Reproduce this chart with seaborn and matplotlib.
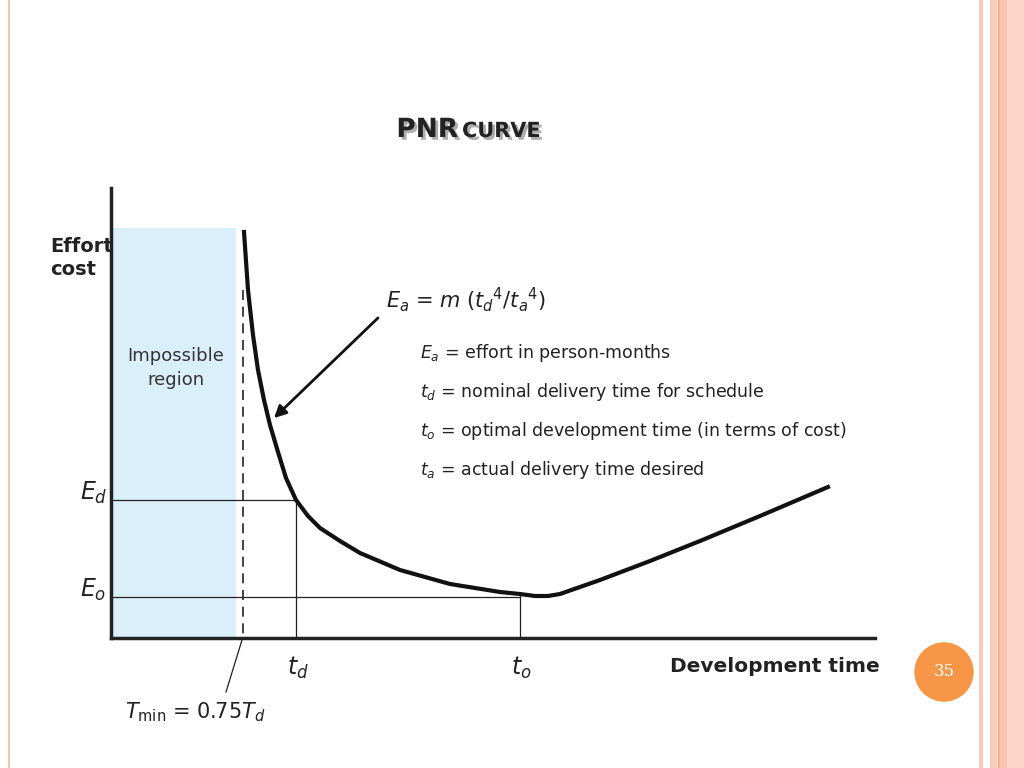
import matplotlib
matplotlib.use("Agg")
import matplotlib.pyplot as plt
import matplotlib.patheffects as pe
import seaborn as sns
import pandas as pd

# Chart data (slide pixel units; y grows downward)
curve_x = [244, 248, 253, 258, 264, 270, 278, 286, 296, 308, 320, 340, 360, 400, 450, 500, 520, 535, 548, 560, 600, 650, 700, 760, 828]
curve_y = [232, 290, 335, 370, 400, 425, 452, 478, 500, 516, 528, 541, 553, 570, 584, 592, 594, 596, 596, 594, 580, 561, 541, 516, 487]
legend_lines = [r"$E_a$ = effort in person-months",
                r"$t_d$ = nominal delivery time for schedule",
                r"$t_o$ = optimal development time (in terms of cost)",
                r"$t_a$ = actual delivery time desired"]

fig = plt.figure(figsize=(10.24, 7.68), dpi=100)
ax = fig.add_axes([0, 0, 1, 1])
ax.set_xlim(0, 1024); ax.set_ylim(768, 0); ax.axis("off")

# slide border
ax.axvline(9, color="#f5b8a0", lw=1.2)
for x0, x1, c in [(979, 983, "#f9cbb8"), (990, 997, "#f9cbb8"), (998, 1007, "#f9c4ae"), (1007, 1024, "#fcd6c6")]:
    ax.axvspan(x0, x1, color=c, lw=0)
ax.axvline(997.5, color="#f0a07a", lw=1)

shadow = [pe.withSimplePatchShadow(offset=(2, -2), shadow_rgbFace="#999999", alpha=0.8)]
ax.text(458, 130, "PNR", ha="right", va="center", fontsize=19, fontweight="bold",
        color="#222222", path_effects=shadow)
ax.text(462, 131, "CURVE", ha="left", va="center", fontsize=15, fontweight="bold",
        color="#222222", path_effects=shadow)

# impossible region
ax.fill_between([111, 236], 228, 638, color="#dbeffb", lw=0)
ax.plot([111, 111], [188, 638], color="#222", lw=2.5)
ax.plot([111, 875], [638, 638], color="#222", lw=2.5)
ax.plot([243, 243], [290, 638], color="#222", lw=1.2, ls=(0, (6, 4)))

ax.plot([111, 296], [500, 500], color="#222", lw=0.9)
ax.plot([296, 296], [500, 638], color="#222", lw=0.9)
ax.plot([111, 520], [597, 597], color="#222", lw=0.9)
ax.plot([520, 520], [595, 638], color="#222", lw=0.9)

df = pd.DataFrame({"x": curve_x, "y": curve_y})
sns.lineplot(data=df, x="x", y="y", sort=False, color="#111", lw=3, ax=ax)
ax.set_xlim(0, 1024); ax.set_ylim(768, 0); ax.axis("off")

ax.annotate("", xy=(272, 420), xytext=(380, 316),
            arrowprops=dict(arrowstyle="-|>", color="#111", lw=2, mutation_scale=18))
ax.plot([226, 242], [692, 640], color="#222", lw=0.9)

ax.text(50, 258, "Effort\ncost", fontsize=14, fontweight="bold", va="center", ha="left", color="#222", linespacing=1.3)
ax.text(176, 368, "Impossible\nregion", fontsize=13, ha="center", va="center", color="#333", linespacing=1.4)
ax.text(80, 493, r"$E_d$", fontsize=17, ha="left", va="center", color="#222")
ax.text(80, 590, r"$E_o$", fontsize=17, ha="left", va="center", color="#222")
ax.text(298, 668, r"$t_d$", fontsize=17, ha="center", va="center", color="#222")
ax.text(521, 668, r"$t_o$", fontsize=17, ha="center", va="center", color="#222")
ax.text(125, 712, r"$T_{\rm min}$ = 0.75$T_d$", fontsize=15, ha="left", va="center", color="#222")
ax.text(880, 666, "Development time", fontsize=14.5, fontweight="bold", ha="right", va="center", color="#222")
ax.text(386, 300, r"$E_a$ = $m$ ($t_d$$^4$/$t_a$$^4$)", fontsize=15, ha="left", va="center", color="#222")
for i, s in enumerate(legend_lines):
    ax.text(420, 353 + i * 39, s, fontsize=12.5, ha="left", va="center", color="#222")

ax.add_patch(plt.Circle((944, 672), 29, color="#f79646"))
ax.text(944, 672, "35", color="white", fontsize=12, ha="center", va="center", family="DejaVu Serif")

fig.savefig("out.png", dpi=100)
